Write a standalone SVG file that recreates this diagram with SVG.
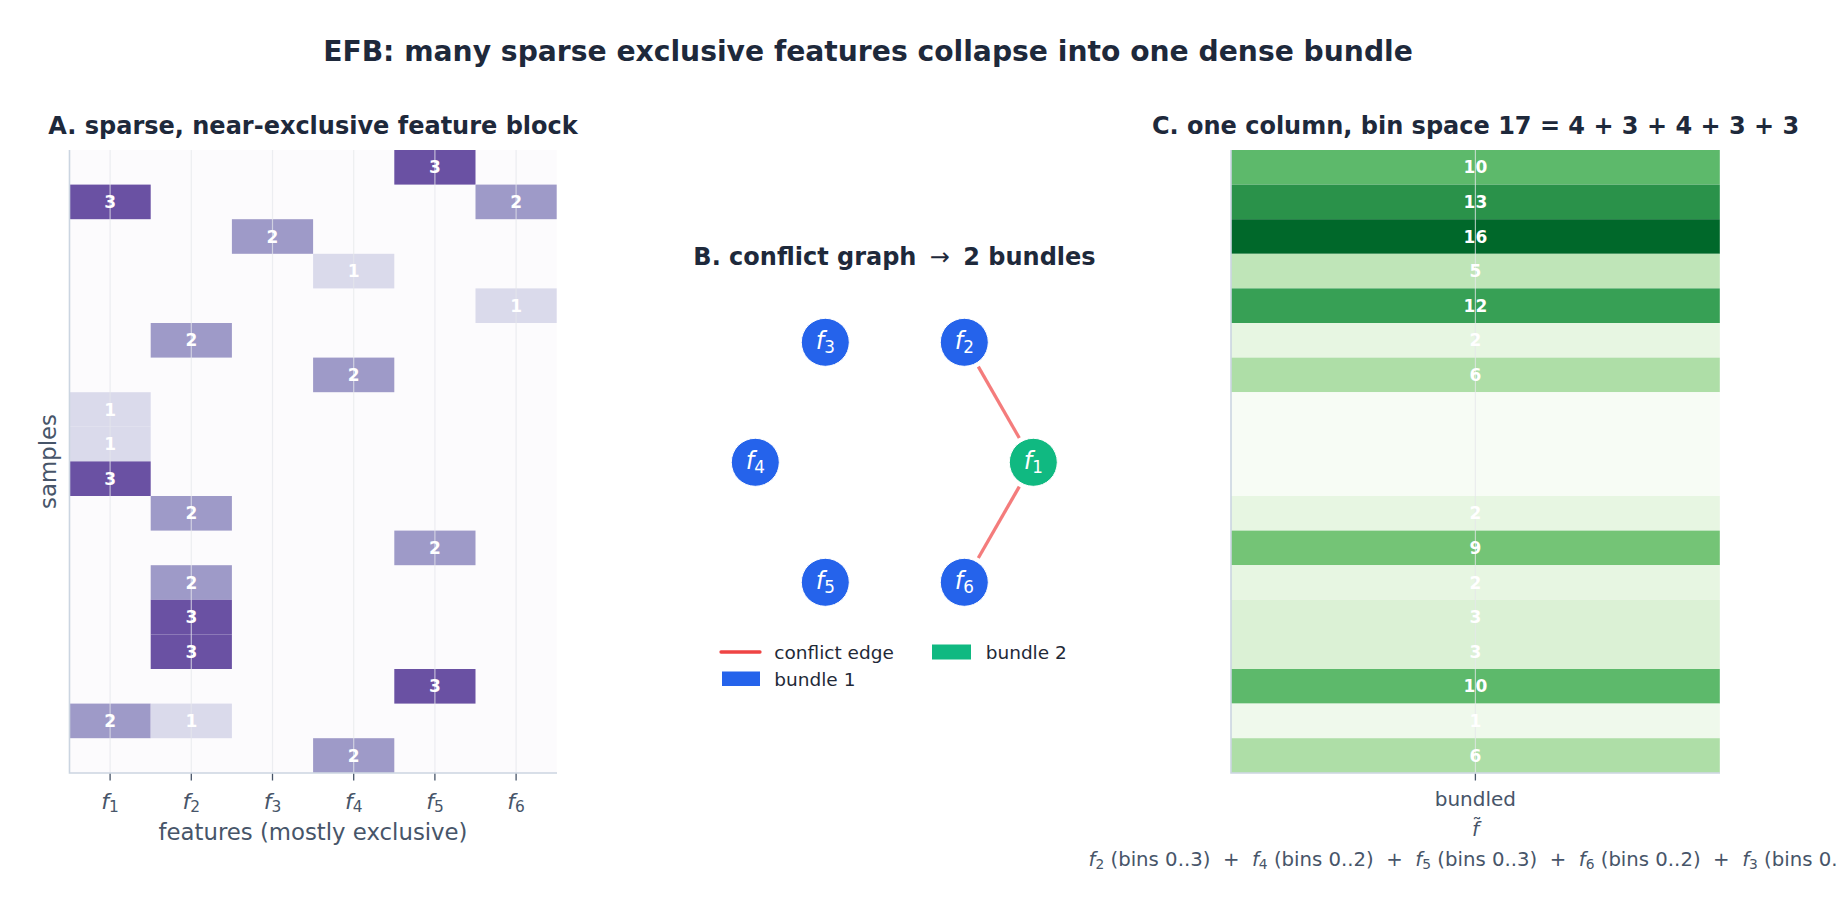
<svg xmlns="http://www.w3.org/2000/svg" width="1836" height="908" viewBox="0 0 1836 908">
<style>
text { font-family: "DejaVu Sans", "Liberation Sans", sans-serif; }
.main { font-size: 28.2px; font-weight: bold; fill: #1e293b; text-anchor: middle; }
.title { font-size: 24px; font-weight: bold; fill: #1e293b; text-anchor: middle; }
.cl { font-size: 17px; font-weight: bold; fill: #ffffff; text-anchor: middle; }
.tick { font-size: 20px; fill: #475569; text-anchor: middle; }
.mt { font-size: 22px; fill: #475569; text-anchor: middle; }
.axl { font-size: 22.8px; fill: #475569; text-anchor: middle; }
.it { font-style: italic; }
.grid { stroke: #e5e7eb; stroke-width: 1.2; stroke-opacity: 0.7; }
.spine { stroke: #cbd5e1; stroke-width: 1.6; fill: none; }
.tk { stroke: #475569; stroke-width: 1.3; }
.nb { fill: #2563eb; stroke: #ffffff; stroke-width: 1; }
.ng { fill: #10b981; stroke: #ffffff; stroke-width: 1; }
.nl { font-size: 24px; fill: #ffffff; text-anchor: middle; }
.edge { stroke: #ef4444; stroke-opacity: 0.7; stroke-width: 3.3; }
.leg { font-size: 18.5px; fill: #1f2937; }
.p0 { fill: #fcfbfd; } .p1 { fill: #dadaeb; } .p2 { fill: #9e9ac8; } .p3 { fill: #6a51a3; }
</style>

<text class="main" x="868" y="61">EFB: many sparse exclusive features collapse into one dense bundle</text>

<!-- Panel A -->
<g id="panelA">
  <text class="title" x="313" y="133.5">A. sparse, near-exclusive feature block</text>
  <rect class="p0" x="69.5" y="150" width="487.2" height="622.8"/>
  <g id="cellsA">
    <rect class="p3" x="394.3" y="150" width="81.2" height="34.6"/>
    <rect class="p3" x="69.5" y="184.6" width="81.2" height="34.6"/>
    <rect class="p2" x="475.5" y="184.6" width="81.2" height="34.6"/>
    <rect class="p2" x="231.9" y="219.2" width="81.2" height="34.6"/>
    <rect class="p1" x="313.1" y="253.8" width="81.2" height="34.6"/>
    <rect class="p1" x="475.5" y="288.4" width="81.2" height="34.6"/>
    <rect class="p2" x="150.7" y="323" width="81.2" height="34.6"/>
    <rect class="p2" x="313.1" y="357.6" width="81.2" height="34.6"/>
    <rect class="p1" x="69.5" y="392.2" width="81.2" height="34.6"/>
    <rect class="p1" x="69.5" y="426.8" width="81.2" height="34.6"/>
    <rect class="p3" x="69.5" y="461.4" width="81.2" height="34.6"/>
    <rect class="p2" x="150.7" y="496" width="81.2" height="34.6"/>
    <rect class="p2" x="394.3" y="530.6" width="81.2" height="34.6"/>
    <rect class="p2" x="150.7" y="565.2" width="81.2" height="34.6"/>
    <rect class="p3" x="150.7" y="599.8" width="81.2" height="34.6"/>
    <rect class="p3" x="150.7" y="634.4" width="81.2" height="34.6"/>
    <rect class="p3" x="394.3" y="669" width="81.2" height="34.6"/>
    <rect class="p2" x="69.5" y="703.6" width="81.2" height="34.6"/>
    <rect class="p1" x="150.7" y="703.6" width="81.2" height="34.6"/>
    <rect class="p2" x="313.1" y="738.2" width="81.2" height="34.6"/>
  </g>
  <g id="gridA">
    <line class="grid" x1="110.1" y1="150" x2="110.1" y2="772.8"/>
    <line class="grid" x1="191.3" y1="150" x2="191.3" y2="772.8"/>
    <line class="grid" x1="272.5" y1="150" x2="272.5" y2="772.8"/>
    <line class="grid" x1="353.7" y1="150" x2="353.7" y2="772.8"/>
    <line class="grid" x1="434.9" y1="150" x2="434.9" y2="772.8"/>
    <line class="grid" x1="516.1" y1="150" x2="516.1" y2="772.8"/>
  </g>
  <g id="labelsA">
    <text class="cl" x="434.9" y="173.3">3</text>
    <text class="cl" x="110.1" y="207.9">3</text>
    <text class="cl" x="516.1" y="207.9">2</text>
    <text class="cl" x="272.5" y="242.5">2</text>
    <text class="cl" x="353.7" y="277.1">1</text>
    <text class="cl" x="516.1" y="311.7">1</text>
    <text class="cl" x="191.3" y="346.3">2</text>
    <text class="cl" x="353.7" y="380.9">2</text>
    <text class="cl" x="110.1" y="415.5">1</text>
    <text class="cl" x="110.1" y="450.1">1</text>
    <text class="cl" x="110.1" y="484.7">3</text>
    <text class="cl" x="191.3" y="519.3">2</text>
    <text class="cl" x="434.9" y="553.9">2</text>
    <text class="cl" x="191.3" y="588.5">2</text>
    <text class="cl" x="191.3" y="623.1">3</text>
    <text class="cl" x="191.3" y="657.7">3</text>
    <text class="cl" x="434.9" y="692.3">3</text>
    <text class="cl" x="110.1" y="726.9">2</text>
    <text class="cl" x="191.3" y="726.9">1</text>
    <text class="cl" x="353.7" y="761.5">2</text>
  </g>
  <polyline class="spine" points="69.5,150 69.5,773 557,773"/>
  <g id="ticksA">
    <line class="tk" x1="110.1" y1="773.8" x2="110.1" y2="780.5"/>
    <line class="tk" x1="191.3" y1="773.8" x2="191.3" y2="780.5"/>
    <line class="tk" x1="272.5" y1="773.8" x2="272.5" y2="780.5"/>
    <line class="tk" x1="353.7" y1="773.8" x2="353.7" y2="780.5"/>
    <line class="tk" x1="434.9" y1="773.8" x2="434.9" y2="780.5"/>
    <line class="tk" x1="516.1" y1="773.8" x2="516.1" y2="780.5"/>
    <text class="mt" x="110.1" y="808.5"><tspan class="it">f</tspan><tspan font-size="15.4" dy="3.5">1</tspan></text>
    <text class="mt" x="191.3" y="808.5"><tspan class="it">f</tspan><tspan font-size="15.4" dy="3.5">2</tspan></text>
    <text class="mt" x="272.5" y="808.5"><tspan class="it">f</tspan><tspan font-size="15.4" dy="3.5">3</tspan></text>
    <text class="mt" x="353.7" y="808.5"><tspan class="it">f</tspan><tspan font-size="15.4" dy="3.5">4</tspan></text>
    <text class="mt" x="434.9" y="808.5"><tspan class="it">f</tspan><tspan font-size="15.4" dy="3.5">5</tspan></text>
    <text class="mt" x="516.1" y="808.5"><tspan class="it">f</tspan><tspan font-size="15.4" dy="3.5">6</tspan></text>
  </g>
  <text class="axl" x="313" y="840">features (mostly exclusive)</text>
  <text class="axl" transform="translate(55.5,461.5) rotate(-90)">samples</text>
</g>

<!-- Panel B -->
<g id="panelB">
  <text class="title" x="894.5" y="265">B. conflict graph <tspan font-weight="normal" dx="5">→</tspan><tspan dx="5"> 2 bundles</tspan></text>
  <g id="connectors">
    <line class="edge" x1="978.3" y1="366.6" x2="1019.3" y2="438"/>
    <line class="edge" x1="1019.3" y1="486.6" x2="978.3" y2="558"/>
  </g>
  <g id="node-f1"><circle class="ng" cx="1033.3" cy="462.3" r="24"/><text class="nl" x="1033.3" y="469"><tspan class="it">f</tspan><tspan font-size="16.8" dy="4">1</tspan></text></g>
  <g id="node-f2"><circle class="nb" cx="964.3" cy="342.3" r="24"/><text class="nl" x="964.3" y="349"><tspan class="it">f</tspan><tspan font-size="16.8" dy="4">2</tspan></text></g>
  <g id="node-f3"><circle class="nb" cx="825.3" cy="342.3" r="24"/><text class="nl" x="825.3" y="349"><tspan class="it">f</tspan><tspan font-size="16.8" dy="4">3</tspan></text></g>
  <g id="node-f4"><circle class="nb" cx="755.3" cy="462.3" r="24"/><text class="nl" x="755.3" y="469"><tspan class="it">f</tspan><tspan font-size="16.8" dy="4">4</tspan></text></g>
  <g id="node-f5"><circle class="nb" cx="825.3" cy="582.3" r="24"/><text class="nl" x="825.3" y="589"><tspan class="it">f</tspan><tspan font-size="16.8" dy="4">5</tspan></text></g>
  <g id="node-f6"><circle class="nb" cx="964.3" cy="582.3" r="24"/><text class="nl" x="964.3" y="589"><tspan class="it">f</tspan><tspan font-size="16.8" dy="4">6</tspan></text></g>
  <g id="legendB">
    <line x1="721" y1="652" x2="760" y2="652" stroke="#ef4444" stroke-width="3.3" stroke-linecap="round"/>
    <text class="leg" x="774.3" y="659">conflict edge</text>
    <rect x="722" y="671.5" width="38" height="14.5" fill="#2563eb"/>
    <text class="leg" x="774.3" y="685.5">bundle 1</text>
    <rect x="932" y="644.5" width="39" height="15" fill="#10b981"/>
    <text class="leg" x="985.7" y="659">bundle 2</text>
  </g>
</g>

<!-- Panel C -->
<g id="panelC">
  <text class="title" x="1475.5" y="133.5">C. one column, bin space 17 = 4 + 3 + 4 + 3 + 3</text>
  <g id="cellsC">
    <rect x="1231" y="150" width="488.8" height="34.6" fill="#5db96b"/>
    <rect x="1231" y="184.6" width="488.8" height="34.6" fill="#2a924a"/>
    <rect x="1231" y="219.2" width="488.8" height="34.6" fill="#00682a"/>
    <rect x="1231" y="253.8" width="488.8" height="34.6" fill="#bfe5b8"/>
    <rect x="1231" y="288.4" width="488.8" height="34.6" fill="#37a055"/>
    <rect x="1231" y="323" width="488.8" height="34.6" fill="#e7f6e2"/>
    <rect x="1231" y="357.6" width="488.8" height="34.6" fill="#aedea7"/>
    <rect x="1231" y="392.2" width="488.8" height="103.8" fill="#f7fcf5"/>
    <rect x="1231" y="496" width="488.8" height="34.6" fill="#e7f6e2"/>
    <rect x="1231" y="530.6" width="488.8" height="34.6" fill="#74c476"/>
    <rect x="1231" y="565.2" width="488.8" height="34.6" fill="#e7f6e2"/>
    <rect x="1231" y="599.8" width="488.8" height="69.2" fill="#dbf1d5"/>
    <rect x="1231" y="669" width="488.8" height="34.6" fill="#5db96b"/>
    <rect x="1231" y="703.6" width="488.8" height="34.6" fill="#eff9ec"/>
    <rect x="1231" y="738.2" width="488.8" height="34.6" fill="#aedea7"/>
  </g>
  <line class="grid" x1="1475.4" y1="150" x2="1475.4" y2="772.8"/>
  <g id="labelsC">
    <text class="cl" x="1475.4" y="173.3">10</text>
    <text class="cl" x="1475.4" y="207.9">13</text>
    <text class="cl" x="1475.4" y="242.5">16</text>
    <text class="cl" x="1475.4" y="277.1">5</text>
    <text class="cl" x="1475.4" y="311.7">12</text>
    <text class="cl" x="1475.4" y="346.3">2</text>
    <text class="cl" x="1475.4" y="380.9">6</text>
    <text class="cl" x="1475.4" y="519.3">2</text>
    <text class="cl" x="1475.4" y="553.9">9</text>
    <text class="cl" x="1475.4" y="588.5">2</text>
    <text class="cl" x="1475.4" y="623.1">3</text>
    <text class="cl" x="1475.4" y="657.7">3</text>
    <text class="cl" x="1475.4" y="692.3">10</text>
    <text class="cl" x="1475.4" y="726.9">1</text>
    <text class="cl" x="1475.4" y="761.5">6</text>
  </g>
  <polyline class="spine" points="1231,150 1231,773 1720,773"/>
  <line class="tk" x1="1475.4" y1="773.8" x2="1475.4" y2="780.5"/>
  <text class="tick" x="1475.4" y="806">bundled</text>
  <text class="it" x="1475.4" y="835.5" font-size="20" fill="#475569" text-anchor="middle">f</text>
  <text x="1477" y="831.5" font-size="20" fill="#475569" text-anchor="middle">˜</text>
  <text x="1088.5" y="865.5" font-size="19.7" fill="#475569" xml:space="preserve"><tspan class="it">f</tspan><tspan font-size="13.8" dy="3">2</tspan><tspan dy="-3"> (bins 0..3)  +  </tspan><tspan class="it">f</tspan><tspan font-size="13.8" dy="3">4</tspan><tspan dy="-3"> (bins 0..2)  +  </tspan><tspan class="it">f</tspan><tspan font-size="13.8" dy="3">5</tspan><tspan dy="-3"> (bins 0..3)  +  </tspan><tspan class="it">f</tspan><tspan font-size="13.8" dy="3">6</tspan><tspan dy="-3"> (bins 0..2)  +  </tspan><tspan class="it">f</tspan><tspan font-size="13.8" dy="3">3</tspan><tspan dy="-3"> (bins 0..2)</tspan></text>
</g>
</svg>
